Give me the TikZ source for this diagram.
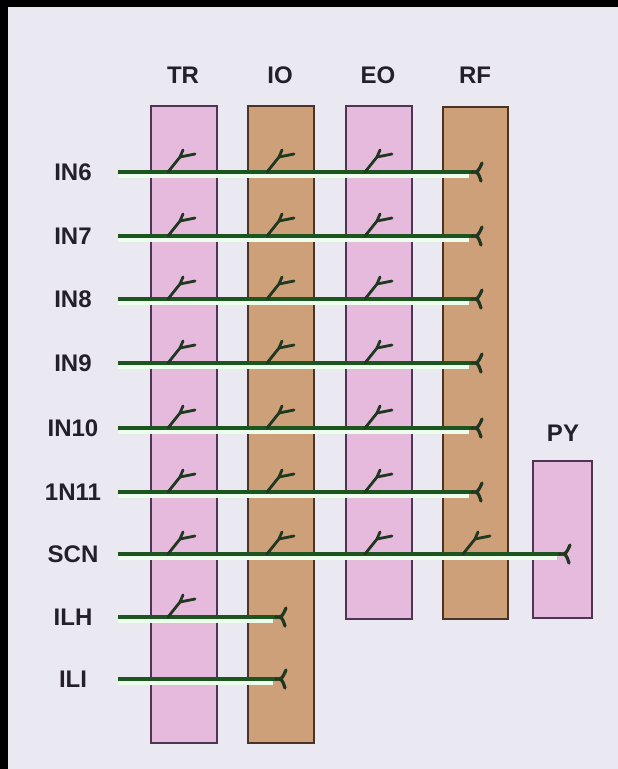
\documentclass[tikz,border=0pt]{standalone}
\usepackage{fontspec}
\setmainfont{Liberation Sans}
\definecolor{bg}{HTML}{EAE8F0}
\definecolor{pinkf}{HTML}{E6BADC}
\definecolor{tanf}{HTML}{CDA07A}
\definecolor{pinkd}{HTML}{4E3652}
\definecolor{tand}{HTML}{4A3426}
\definecolor{nerveg}{HTML}{1C5520}
\definecolor{twigg}{HTML}{203820}
\definecolor{txt}{HTML}{24202A}
\newcommand\nerverow[4]{%
  \node[lab] (l#4) at (73,#2) {#1};
  \coordinate (s#4) at (118,#2);
  \coordinate (e#4) at (#3,#2);
  \draw[halo] ([yshift=-4pt]s#4) -- ([xshift=-4pt,yshift=-4pt]e#4);
  \draw[nerve] (s#4) -- (e#4);
  \pic at (e#4) {endfork};
}
\begin{document}
\begin{tikzpicture}[x=1pt,y=-1pt,
  lab/.style={font=\fontsize{24}{24}\selectfont\bfseries, text=txt, inner sep=0pt},
  pinkbox/.style={draw=pinkd, fill=pinkf, line width=1.8pt, inner sep=0pt, anchor=north west},
  tanbox/.style={draw=tand, fill=tanf, line width=1.8pt, inner sep=0pt, anchor=north west},
  halo/.style={draw=white!92!green, line width=4pt},
  nerve/.style={draw=nerveg, line width=4.4pt},
  twigl/.style={draw=twigg, line width=2.8pt, line cap=round, line join=round},
  twig/.pic={\draw[twigl] (0,0) -- (12,-15) -- (15,-22); \draw[twigl] (12,-15) -- (27,-18);},
  endfork/.pic={\draw[twigl, line width=3.2pt] (-1,0) .. controls (5,0) .. (9,-9);
                \draw[twigl, line width=3.2pt] (-1,0) .. controls (5,0) .. (8,9);}
]
\useasboundingbox (0,0) rectangle (618,769);
\fill[bg] (0,0) rectangle (618,769);
\fill[black] (0,0) rectangle (618,7);
\fill[black] (0,0) rectangle (8,769);

% column boxes
\node[pinkbox, minimum width=66pt, minimum height=637pt] (TR) at (150,105) {};
\node[tanbox,  minimum width=66pt, minimum height=637pt] (IO) at (247,105) {};
\node[pinkbox, minimum width=66pt, minimum height=513pt] (EO) at (345,105) {};
\node[tanbox,  minimum width=65pt, minimum height=512pt] (RF) at (442,106) {};
\node[pinkbox, minimum width=59pt, minimum height=157pt] (PY) at (532,460) {};

% column labels
\node[lab] (tTR) at (183,75) {TR};
\node[lab] (tIO) at (280,75) {IO};
\node[lab] (tEO) at (378,75) {EO};
\node[lab] (tRF) at (475,75) {RF};
\node[lab] (tPY) at (563,433) {PY};

% nerve rows
\nerverow{IN6}{172}{473}{a}
\nerverow{IN7}{236}{473}{b}
\nerverow{IN8}{299}{473}{c}
\nerverow{IN9}{363}{473}{d}
\nerverow{IN10}{428}{473}{e}
\nerverow{1N11}{492}{473}{f}
\nerverow{SCN}{554}{561}{g}
\nerverow{ILH}{617}{277}{h}
\nerverow{ILI}{679}{277}{i}

% branches
\foreach \yy in {172,236,299,363,428,492,554}{
  \pic at (168,\yy) {twig};
  \pic at (267,\yy) {twig};
  \pic at (365,\yy) {twig};
}
\pic at (463,554) {twig};
\pic at (168,617) {twig};
\end{tikzpicture}
\end{document}
